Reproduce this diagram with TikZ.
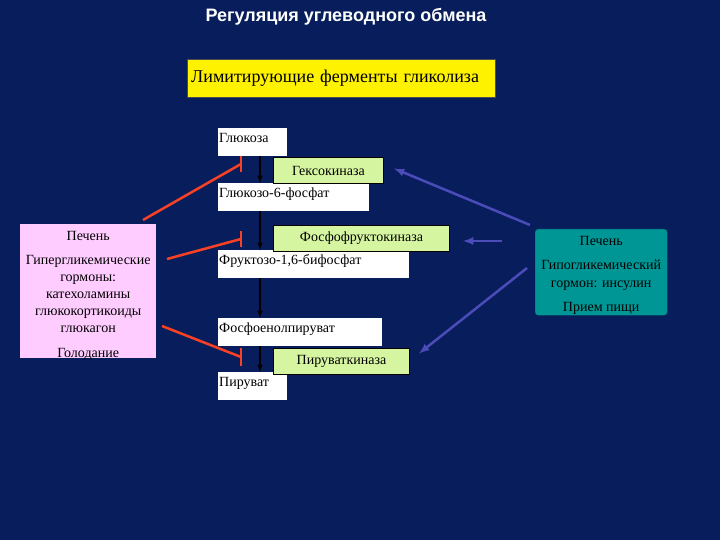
\documentclass[tikz,border=0pt]{standalone}
\usepackage{fontspec}
\setmainfont{Liberation Serif}
\newfontfamily\headfont{Liberation Sans}
\usetikzlibrary{arrows.meta}
\definecolor{slide}{RGB}{8,30,92}
\definecolor{enzgreen}{RGB}{214,245,160}
\definecolor{liverpink}{RGB}{255,204,255}
\definecolor{liverteal}{RGB}{0,150,150}
\definecolor{inhred}{RGB}{250,65,35}
\definecolor{actblue}{RGB}{75,75,185}
\begin{document}
\begin{tikzpicture}[x=1pt,y=-1pt,
  met/.style={fill=white,anchor=north west,inner sep=1pt,text height=13pt,text depth=13pt,align=left,font=\fontsize{14}{16}\selectfont},
  enz/.style={draw=black,line width=1pt,fill=enzgreen,anchor=north west,inner sep=0pt,minimum height=26pt,font=\fontsize{14}{16}\selectfont},
  flow/.style={line width=1.5pt,-latex},
  inhib/.style={inhred,line width=2.5pt},
  act/.style={actblue,line width=2.5pt,-latex}]
\fill [slide] (0,0) rectangle (720,540);
\useasboundingbox (0,0) rectangle (720,540);
%\draw [help lines, color=lightgray] (0,0) grid[step=20] (720,540);
\node (title) at (346,17) [text=white,font=\headfont\bfseries\fontsize{18}{21}\selectfont] {Регуляция углеводного обмена};
\node (limit) at (187,59) [fill=yellow,draw=black!70,anchor=north west,text width=300pt,inner xsep=4pt,minimum height=38pt,align=left,font=\fontsize{18}{21}\selectfont] {Лимитирующие ферменты гликолиза};

% pathway
\node (glc) at (218,128) [met,text width=67pt] {Глюкоза};
\node (g6p) at (218,183) [met,text width=149pt] {Глюкозо-6-фосфат};
\node (f16) at (218,250) [met,text width=189pt] {Фруктозо-1,6-бифосфат};
\node (pep) at (218,318) [met,text width=162pt] {Фосфоенолпируват};
\node (pyr) at (218,372) [met,text width=67pt] {Пируват};
\node (hk) at (273,157) [enz,minimum width=110pt] {Гексокиназа};
\node (pfk) at (273,225) [enz,minimum width=176pt] {Фосфофруктокиназа};
\node (pk) at (273,348) [enz,minimum width=136pt] {Пируваткиназа};

\coordinate (axis) at (260,0);
\draw [flow] (glc.south -| axis) -- (g6p.north -| axis);
\draw [flow] (g6p.south -| axis) -- (f16.north -| axis);
\draw [flow] (f16.south -| axis) -- (pep.north -| axis);
\draw [flow] (pep.south -| axis) -- (pyr.north -| axis);

% regulation
\node (hyper) at (20,224) [fill=liverpink,anchor=north west,minimum width=136pt,minimum height=134pt,inner sep=0pt,
  label={[align=center,yshift=-5pt,font=\fontsize{14}{17}\selectfont]center:{Печень\\[7pt] Гипергликемические\\ гормоны:\\ катехоламины\\ глюкокортикоиды\\ глюкагон\\[8pt] Голодание}}] {};
\node (hypo) at (535,229) [fill=liverteal,draw=liverteal!70!black,rounded corners=3pt,anchor=north west,minimum width=132pt,minimum height=86pt,inner sep=0pt,
  label={[align=center,yshift=-3pt,font=\fontsize{14}{18}\selectfont]center:{Печень\\[6pt] Гипогликемический\\ гормон: инсулин\\[6pt] Прием пищи}}] {};

\coordinate (h1) at (143,220);
\coordinate (b1) at (241,164);
\coordinate (h2) at (167,259);
\coordinate (b2) at (241,239);
\coordinate (h3) at (162,326);
\coordinate (b3) at (241,357);
\draw [inhib] (h1) -- (b1);
\draw [inhib] ([yshift=8pt]b1) -- ([yshift=-8pt]b1);
\draw [inhib] (h2) -- (b2);
\draw [inhib] ([yshift=8pt]b2) -- ([yshift=-8pt]b2);
\draw [inhib] (h3) -- (b3);
\draw [inhib] ([yshift=9pt]b3) -- ([yshift=-9pt]b3);

\coordinate (i1) at (530,225);
\coordinate (i2) at (502,241);
\coordinate (i3) at (527,268);
\draw [act] (i1) -- ([xshift=10pt,yshift=2pt]hk.east);
\draw [act] (i2) -- ([xshift=13pt]i2 -| pfk.east);
\draw [act] (i3) -- ([xshift=9pt,yshift=8pt]pk.east);

\end{tikzpicture}
\end{document}
